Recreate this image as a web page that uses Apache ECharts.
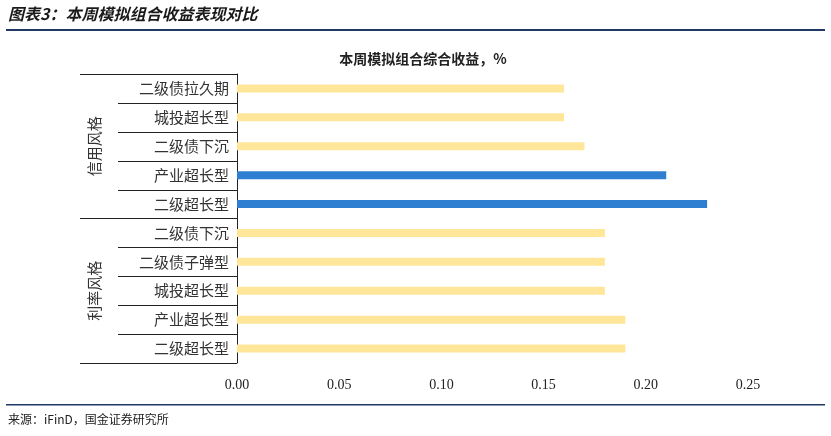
<!DOCTYPE html><html><head><meta charset="utf-8"><script src="https://cdn.jsdelivr.net/npm/echarts@6/dist/echarts.min.js"></script>
<style>body{margin:0}#c{width:831px;height:436px}</style></head><body><div id="c"></div><script>
const categories=['二级超长型','产业超长型','城投超长型','二级债子弹型','二级债下沉','二级超长型','产业超长型','二级债下沉','城投超长型','二级债拉久期'];
const values=[0.19,0.19,0.18,0.18,0.18,0.23,0.21,0.17,0.16,0.16];
const highlight=[false,false,false,false,false,true,true,false,false,false];
const groups=['利率风格','信用风格'];
const CJK='"Noto Sans CJK SC"';
const chart=echarts.init(document.getElementById('c'));
const baseGraphic=[
  {type:'text',left:8,top:6,style:{text:'图表3：本周模拟组合收益表现对比',font:'italic bold 16px "Noto Sans CJK SC"',fill:'#1a1a1a'}},
  {type:'rect',shape:{x:6,y:29,width:819,height:2},style:{fill:'#1F3864'}},
  {type:'rect',shape:{x:6,y:404,width:819,height:1.5},style:{fill:'#1F3864'}},
  {type:'text',left:8,top:413,style:{text:'来源：iFinD，国金证券研究所',font:'12px "Noto Sans CJK SC"',fill:'#222'}}
];
chart.setOption({
 animation:false,
 title:{text:'本周模拟组合综合收益，%',left:418,top:47,textAlign:'center',textStyle:{fontFamily:CJK,fontSize:14,fontWeight:'bold',color:'#222'}},
 graphic:baseGraphic,
 grid:{left:237,right:83,top:74,bottom:73},
 xAxis:{type:'value',min:0,max:0.25,interval:0.05,axisLine:{show:false},axisTick:{show:false},splitLine:{show:false},
  axisLabel:{margin:15,fontFamily:'Liberation Serif',fontSize:14,color:'#222',formatter:v=>v.toFixed(2)}},
 yAxis:[
  {type:'category',data:categories,axisLine:{lineStyle:{color:'#222'}},axisTick:{show:false},
   axisLabel:{fontFamily:CJK,fontSize:15,color:'#333',margin:8}},
  {type:'category',data:groups,position:'left',axisLine:{show:false},axisTick:{show:false},
   axisLabel:{rotate:90,margin:135,fontFamily:CJK,fontSize:15,color:'#333'}}
 ],
 series:[{type:'bar',yAxisIndex:0,barWidth:8,data:values.map((v,i)=>({value:v,itemStyle:{color:highlight[i]?'#2E7FD1':'#FFE699'}}))}]
});
// row boundary lines derived from category axis positions
const x0=chart.convertToPixel({xAxisIndex:0},0);
const c0=chart.convertToPixel({yAxisIndex:0},0), c1=chart.convertToPixel({yAxisIndex:0},1);
const step=c0-c1, lines=[];
for(let i=0;i<=categories.length;i++){
  const y=Math.round(c0+step/2-i*step)+0.5;
  const full=(i===0||i===5||i===categories.length);
  lines.push({type:'line',shape:{x1:full?80:118,y1:y,x2:x0,y2:y},style:{stroke:'#222',lineWidth:1}});
}
chart.setOption({graphic:baseGraphic.concat(lines)});
</script></body></html>
